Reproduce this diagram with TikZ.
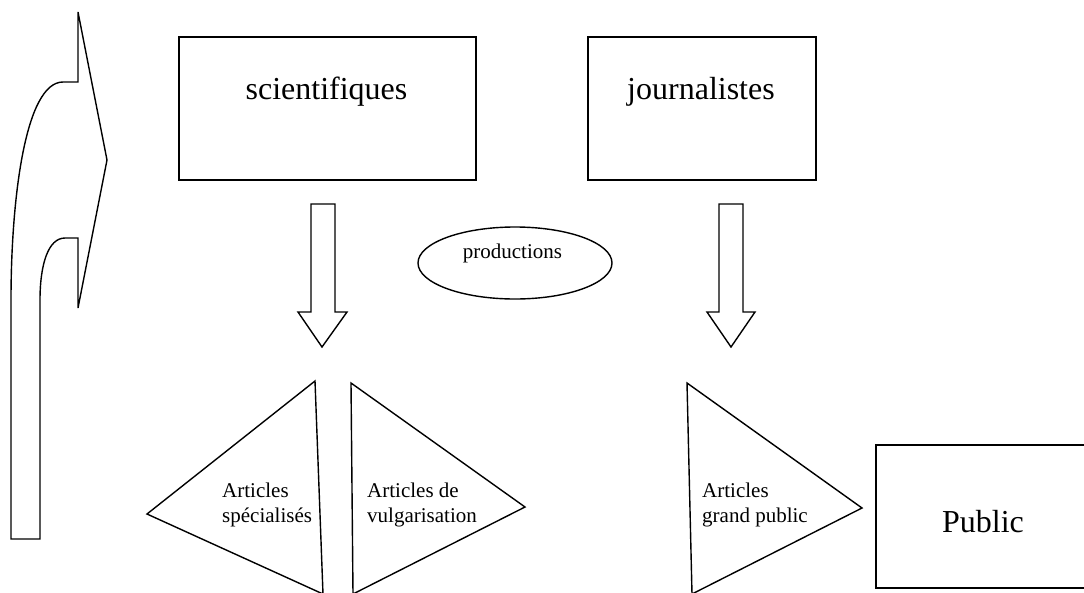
\documentclass[tikz,border=0pt]{standalone}
\usepackage{fontspec}
\setmainfont{Liberation Serif}
\usetikzlibrary{shapes.geometric}
\begin{document}
\begin{tikzpicture}[x=1pt,y=-1pt,
  shp/.style={draw=black, line width=1.4pt, line join=miter},
  box/.style={draw=black, line width=1.6pt, inner sep=0pt, anchor=north west},
  big/.style={font=\fontsize{32}{38}\selectfont, inner sep=0pt, anchor=base},
  small/.style={font=\fontsize{21}{25}\selectfont, inner sep=0pt, anchor=base west}]
\useasboundingbox (0,0) rectangle (1084,592);
\clip (0,0) rectangle (1084,592);
% boxes
\node[box, minimum width=297pt, minimum height=143pt] (sci) at (178,36) {};
\node[box, minimum width=228pt, minimum height=143pt] (jour) at (587,36) {};
\node[box, minimum width=215pt, minimum height=143pt] (pub) at (875,444) {};
\node[big] (scit) at (326.5,99) {scientifiques};
\node[big] (jourt) at (701,99) {journalistes};
\node[big] (pubt) at (983,532) {Public};
% ellipse
\node[shp, ellipse, minimum width=194pt, minimum height=72pt, inner sep=0pt] (prodell) at (515,263) {};
\node[small, anchor=base] (prod) at (512.5,258) {productions};
% left curved arrow
\draw[shp] (40,539) -- (11,539) -- (11,300)
  .. controls (11,200) and (25,82) .. (63,82)
  -- (78,82) -- (78,12) -- (107,160) -- (78,308) -- (78,238) -- (65,238)
  .. controls (48,238) and (40,265) .. (40,300) -- cycle;
% down arrows
\draw[shp] (311,204) -- (335,204) -- (335,312) -- (347,312) -- (322,347) -- (298,312) -- (311,312) -- cycle;
\draw[shp] (719,204) -- (743,204) -- (743,312) -- (755,312) -- (731,347) -- (707,312) -- (719,312) -- cycle;
% triangles
\draw[shp] (315,381) -- (147,514) -- (323,594) -- cycle;
\draw[shp] (351,383) -- (525,507) -- (353,594) -- cycle;
\draw[shp] (687,383) -- (862,508) -- (692,594) -- cycle;
\node[small] (spec1) at (222,497) {Articles};
\node[small] (spec2) at (222,522) {spécialisés};
\node[small] (vulg1) at (367,497) {Articles de};
\node[small] (vulg2) at (367,522) {vulgarisation};
\node[small] (gp1) at (702,497) {Articles};
\node[small] (gp2) at (702,522) {grand public};
\end{tikzpicture}
\end{document}
